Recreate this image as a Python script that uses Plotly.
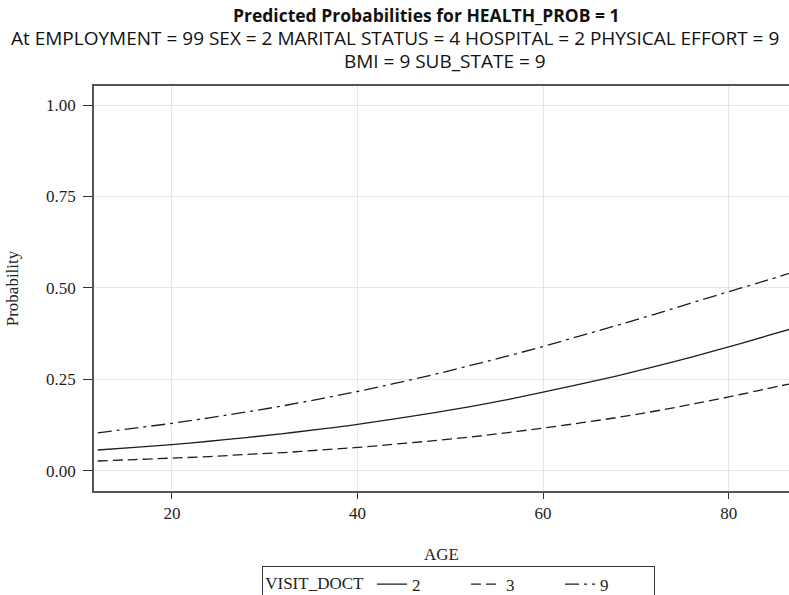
import plotly.graph_objects as go

age = [12, 16, 20, 24, 28, 32, 36, 40, 44, 48, 52, 56, 60, 64, 68, 72, 76, 80, 84, 87]
prob_2 = [0.057, 0.064, 0.072, 0.081, 0.091, 0.102, 0.114, 0.127, 0.142, 0.158, 0.175,
          0.194, 0.215, 0.237, 0.260, 0.285, 0.311, 0.339, 0.368, 0.390]
prob_3 = [0.027, 0.031, 0.035, 0.039, 0.045, 0.050, 0.057, 0.064, 0.073, 0.082, 0.092,
          0.104, 0.117, 0.131, 0.146, 0.163, 0.182, 0.202, 0.224, 0.240]
prob_9 = [0.104, 0.117, 0.130, 0.145, 0.161, 0.178, 0.197, 0.217, 0.239, 0.262, 0.287,
          0.313, 0.340, 0.369, 0.398, 0.428, 0.459, 0.490, 0.520, 0.544]

series_names = ["2", "3", "9"]
y_ticks = [0.0, 0.25, 0.5, 0.75, 1.0]
y_tick_labels = ["0.00", "0.25", "0.50", "0.75", "1.00"]
x_ticks = [20, 40, 60, 80]

title = "Predicted Probabilities for HEALTH_PROB = 1"
sub1 = "At EMPLOYMENT = 99 SEX = 2 MARITAL STATUS = 4 HOSPITAL = 2 PHYSICAL EFFORT = 9"
sub2 = "BMI = 9 SUB_STATE = 9"

serif = "Liberation Serif, Times New Roman, serif"
sans = "Open Sans, sans-serif"
line_col = "#1e1e1e"

fig = go.Figure()
dashes = ["solid", "10px,5px", "14px,5px,3px,5px"]
for name, ys, d in zip(series_names, [prob_2, prob_3, prob_9], dashes):
    fig.add_trace(go.Scatter(x=age, y=ys, mode="lines", name=name,
                             line=dict(color=line_col, width=1.3, dash=d, shape="spline")))

fig.update_layout(
    width=789, height=595,
    margin=dict(l=94, r=0, t=86, b=104, autoexpand=False),
    paper_bgcolor="white", plot_bgcolor="white",
    font=dict(family=serif, size=17, color="#222"),
    showlegend=True,
    legend=dict(orientation="h", x=0.242, xanchor="left", y=-0.184, yanchor="top",
                bordercolor="#333", borderwidth=1,
                title=dict(text="VISIT_DOCT", side="left", font=dict(family=serif, size=17)),
                font=dict(family=serif, size=17), entrywidth=49, entrywidthmode="pixels",
                tracegroupgap=0),
    xaxis=dict(range=[11.6, 86.5], tickvals=x_ticks, showgrid=True, gridcolor="#e6e6e6",
               showline=True, linecolor="#555", linewidth=1.5, mirror=True,
               ticks="outside", ticklen=6, tickcolor="#333", zeroline=False,
               automargin=False,
               title=dict(text="AGE", font=dict(family=serif, size=17), standoff=26),
               tickfont=dict(family=serif, size=17)),
    yaxis=dict(range=[-0.055, 1.052], tickvals=y_ticks, ticktext=y_tick_labels,
               showgrid=True, gridcolor="#e6e6e6",
               showline=True, linecolor="#555", linewidth=1.5,
               ticks="outside", ticklen=9, tickcolor="#333", zeroline=False,
               automargin=False, ticklabelstandoff=4,
               title=dict(text="Probability", font=dict(family=serif, size=17), standoff=23),
               tickfont=dict(family=serif, size=17)),
    annotations=[
        dict(text="<b>" + title + "</b>", xref="paper", yref="paper", x=0.479, y=1.175,
             xanchor="center", yanchor="middle", showarrow=False,
             font=dict(family=sans, size=17.5, color="#111")),
        dict(text=sub1, xref="paper", yref="paper", x=0.433, y=1.1185,
             xanchor="center", yanchor="middle", showarrow=False,
             font=dict(family=sans, size=19, color="#111")),
        dict(text=sub2, xref="paper", yref="paper", x=0.505, y=1.062,
             xanchor="center", yanchor="middle", showarrow=False,
             font=dict(family=sans, size=19, color="#111")),
    ],
)

fig.write_html("out.html", config={"displayModeBar": False},
               post_script="document.body.style.margin='0';")
